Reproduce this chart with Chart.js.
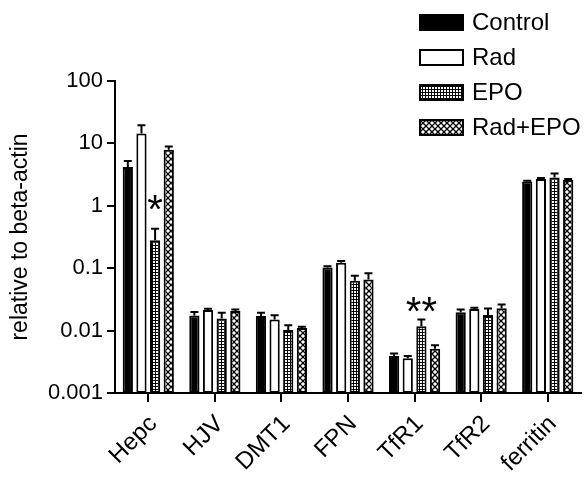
<!DOCTYPE html>
<html>
<head>
<meta charset="utf-8">
<script src="https://cdn.jsdelivr.net/npm/chart.js@4.4.0/dist/chart.umd.min.js"></script>
<style>
html, body { margin: 0; padding: 0; background: #fff; }
#wrap { width: 587px; height: 477px; position: relative; }
</style>
</head>
<body>
<div id="wrap"><canvas id="graphicsChart"></canvas></div>
<script>
const genes = ["Hepc", "HJV", "DMT1", "FPN", "TfR1", "TfR2", "ferritin"];
const groups = ["Control", "Rad", "EPO", "Rad+EPO"];

const control    = [4.2, 0.0174, 0.0171, 0.103, 0.0039, 0.0196, 2.45];
const controlErr = [1.0, 0.0024, 0.0023, 0.004, 0.0004, 0.0022, 0.08];
const rad        = [14.4, 0.0214, 0.015, 0.122, 0.0036, 0.0222, 2.7];
const radErr     = [5.2, 0.001, 0.0026, 0.008, 0.0003, 0.001, 0.1];
const epo        = [0.28, 0.0156, 0.0102, 0.063, 0.0117, 0.0178, 2.85];
const epoErr     = [0.15, 0.0037, 0.002, 0.013, 0.0033, 0.0047, 0.45];
const radEpo     = [7.9, 0.0207, 0.011, 0.066, 0.0051, 0.0228, 2.6];
const radEpoErr  = [1.0, 0.001, 0.0005, 0.017, 0.0007, 0.0035, 0.08];

const yTicks = [0.001, 0.01, 0.1, 1, 10, 100];
const yTickLabels = ["0.001", "0.01", "0.1", "1", "10", "100"];

// significance marks on the EPO bars
const epoStars = ["*", "", "", "", "**", "", ""];
const starAt   = [1.2, null, null, null, 0.028, null, null];

const FONT = '"Liberation Sans", Arial, sans-serif';

function makePattern(size, draw) {
  const c = document.createElement('canvas');
  c.width = size; c.height = size;
  const g = c.getContext('2d');
  draw(g, size);
  return document.getElementById('graphicsChart').getContext('2d').createPattern(c, 'repeat');
}
const dotted = makePattern(3, (g) => {
  g.fillStyle = '#000'; g.fillRect(0, 0, 3, 3);
  g.fillStyle = '#fff'; g.fillRect(0, 0, 2, 2);
});
const hatched = makePattern(6, (g, s) => {
  g.fillStyle = '#fff'; g.fillRect(0, 0, s, s);
  g.strokeStyle = '#000'; g.lineWidth = 1.3;
  g.beginPath();
  g.moveTo(0, 0); g.lineTo(s, s);
  g.moveTo(s, 0); g.lineTo(0, s);
  g.stroke();
});

const errors = [controlErr, radErr, epoErr, radEpoErr];

const errorBars = {
  id: 'errorBars',
  afterDatasetsDraw(chart) {
    const ctx = chart.ctx;
    const y = chart.scales.y;
    ctx.save();
    ctx.strokeStyle = '#000';
    ctx.lineWidth = 2;
    chart.data.datasets.forEach((ds, i) => {
      const meta = chart.getDatasetMeta(i);
      meta.data.forEach((bar, j) => {
        const top = y.getPixelForValue(ds.data[j] + errors[i][j]);
        ctx.beginPath();
        ctx.moveTo(bar.x, bar.y);
        ctx.lineTo(bar.x, top);
        ctx.moveTo(bar.x - 4, top);
        ctx.lineTo(bar.x + 4, top);
        ctx.stroke();
      });
    });
    // asterisks
    const meta = chart.getDatasetMeta(2);
    ctx.fillStyle = '#000';
    ctx.font = '40px ' + FONT;
    ctx.textAlign = 'center';
    ctx.textBaseline = 'alphabetic';
    epoStars.forEach((s, j) => {
      if (!s) return;
      const cy = y.getPixelForValue(starAt[j]);
      ctx.fillText(s, meta.data[j].x, cy + 22);
    });
    ctx.restore();
  }
};

const legendBoxes = {
  id: 'legendBoxes',
  afterDraw(chart) {
    const ctx = chart.ctx;
    ctx.save();
    chart.data.datasets.forEach((ds, i) => {
      const top = 14 + i * 35;
      ctx.fillStyle = ds.backgroundColor;
      ctx.fillRect(419, top, 45, 17);
      ctx.strokeStyle = '#000';
      ctx.lineWidth = 2;
      ctx.strokeRect(420, top + 1, 43, 15);
      ctx.fillStyle = '#000';
      ctx.font = '24px ' + FONT;
      ctx.textBaseline = 'middle';
      ctx.textAlign = 'left';
      ctx.fillText(ds.label, 472, top + 9);
    });
    ctx.restore();
  }
};

const barStyle = { borderColor: '#000', borderWidth: 2, borderSkipped: false,
                   categoryPercentage: 0.82, barPercentage: 0.75 };

new Chart(document.getElementById('graphicsChart'), {
  type: 'bar',
  data: {
    labels: genes,
    datasets: [
      { label: groups[0], data: control, backgroundColor: '#000', ...barStyle },
      { label: groups[1], data: rad, backgroundColor: '#fff', ...barStyle },
      { label: groups[2], data: epo, backgroundColor: dotted, ...barStyle },
      { label: groups[3], data: radEpo, backgroundColor: hatched, ...barStyle },
    ],
  },
  options: {
    responsive: true,
    maintainAspectRatio: false,
    animation: false,
    layout: { padding: { top: 81, right: 6, left: 0, bottom: 0 } },
    plugins: { legend: { display: false }, tooltip: { enabled: false } },
    scales: {
      x: {
        offset: true,
        grid: { display: true, offset: false, drawOnChartArea: false, drawTicks: true,
                tickLength: 9, color: '#000', lineWidth: 2 },
        border: { display: true, color: '#000', width: 2 },
        ticks: { color: '#000', font: { family: FONT, size: 24 }, minRotation: 45,
                 maxRotation: 45, padding: 8, labelOffset: 5, autoSkip: false },
        afterFit: (s) => { s.height = 84; },
      },
      y: {
        type: 'logarithmic',
        min: 0.001,
        max: 100,
        afterBuildTicks: (s) => { s.ticks = yTicks.map(v => ({ value: v })); },
        ticks: { color: '#000', font: { family: FONT, size: 22 }, padding: 4,
                 callback: (v, i) => yTickLabels[i] },
        grid: { display: true, drawOnChartArea: false, tickLength: 8, color: '#000', lineWidth: 2 },
        border: { display: true, color: '#000', width: 2 },
        title: { display: true, text: 'relative to beta-actin', color: '#000',
                 font: { family: FONT, size: 23 }, padding: { top: 7, bottom: 0 } },
        afterFit: (s) => { s.width = 115; },
      },
    },
  },
  plugins: [errorBars, legendBoxes],
});
</script>
</body>
</html>
